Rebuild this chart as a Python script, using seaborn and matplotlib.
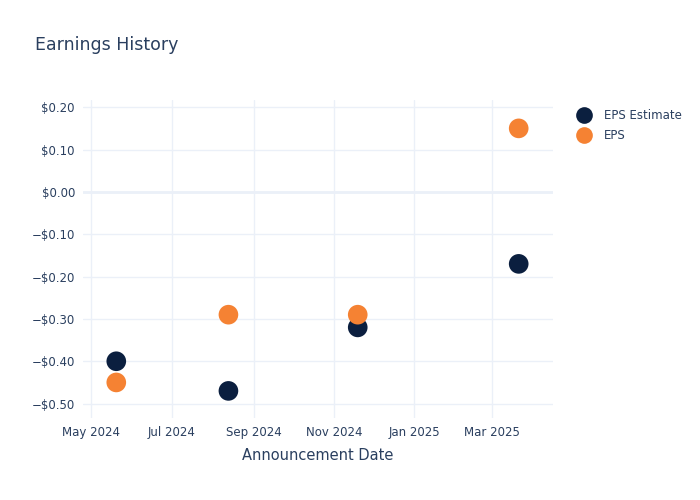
import numpy as np
import pandas as pd
import matplotlib
matplotlib.use("Agg")
import matplotlib.pyplot as plt
import matplotlib.dates as mdates
from matplotlib.ticker import FuncFormatter, MultipleLocator
import seaborn as sns

# data
dates = ["2024-05-20", "2024-08-13", "2024-11-19", "2025-03-21"]
eps_estimate = [-0.40, -0.47, -0.32, -0.17]
eps_actual = [-0.45, -0.29, -0.29, 0.15]

NAVY = "#0b1f3f"
ORANGE = "#f58233"
TEXT = "#2a3f5f"
GRID = "#ebf0f8"

df = pd.DataFrame({
    "date": pd.to_datetime(dates * 2),
    "value": eps_estimate + eps_actual,
    "series": ["EPS Estimate"] * 4 + ["EPS"] * 4,
})

sns.set_theme(style="white")
plt.rcParams["font.family"] = ["DejaVu Sans"]

fig = plt.figure(figsize=(7, 5), dpi=100)
ax = fig.add_axes([0.119, 0.164, 0.671, 0.636])

sns.scatterplot(
    data=df, x="date", y="value", hue="series",
    palette={"EPS Estimate": NAVY, "EPS": ORANGE},
    s=200, edgecolor="none", ax=ax, zorder=3,
)

ax.set_xlim(pd.Timestamp("2024-04-25"), pd.Timestamp("2025-04-16"))
ax.set_ylim(-0.534, 0.217)

ax.xaxis.set_major_locator(mdates.MonthLocator(bymonth=[1, 3, 5, 7, 9, 11]))
ax.xaxis.set_major_formatter(mdates.DateFormatter("%b %Y"))
ax.yaxis.set_major_locator(MultipleLocator(0.1))


def money(v, pos):
    if abs(v) < 1e-9:
        return "$0.00"
    return ("\u2212$" if v < 0 else "$") + f"{abs(v):.2f}"


ax.yaxis.set_major_formatter(FuncFormatter(money))

ax.grid(True, color=GRID, linewidth=1)
ax.axhline(0, color=GRID, linewidth=2, zorder=1)
for s in ax.spines.values():
    s.set_visible(False)
ax.tick_params(axis="both", colors=TEXT, labelsize=8.5, length=0, pad=6)

ax.set_xlabel("Announcement Date", color=TEXT, fontsize=10.5, labelpad=6)
ax.set_ylabel("")

fig.text(0.05, 0.90, "Earnings History", color=TEXT, fontsize=12.5)

leg = ax.legend(
    loc="upper left", bbox_to_anchor=(1.03, 0.985), frameon=False,
    fontsize=8.5, handletextpad=0.7, labelspacing=0.55, borderaxespad=0,
    markerscale=0.85,
)
for t in leg.get_texts():
    t.set_color(TEXT)

fig.savefig("out.png", dpi=100)
